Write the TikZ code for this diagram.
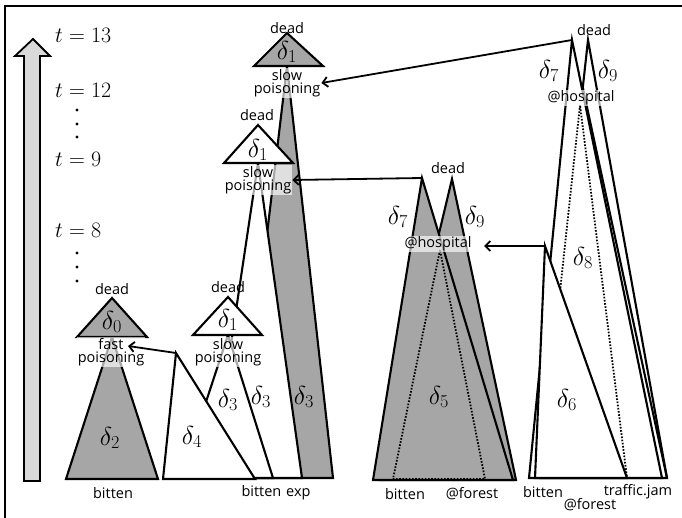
\RequirePackage{fix-cm}
\documentclass[tikz,border=0pt]{standalone}
\usepackage{fontspec}
\setsansfont{Open Sans}
\usetikzlibrary{arrows.meta}

\begin{document}
\begin{tikzpicture}[x=1pt, y=-1pt,
  font=\sffamily\fontsize{14.5}{13}\selectfont,
  edge/.style={draw=black, line width=2.1pt},
  grey/.style={edge, fill=black!35},
  blank/.style={edge, fill=white},
  dots/.style={line width=1.8pt, dash pattern=on 1.6pt off 1.6pt},
  ev/.style={align=center, inner sep=1pt, fill=white, fill opacity=0.65, text opacity=1},
  lab/.style={inner sep=0pt},
  dl/.style={inner sep=0pt, font=\fontsize{26}{28}\selectfont},
  tl/.style={anchor=west, inner sep=0pt, font=\fontsize{22}{24}\selectfont},
  link/.style={line width=1.8pt, -{Straight Barb[length=5pt,width=10pt]}}
]
\useasboundingbox (0,0) rectangle (682,518);
\draw[line width=2.6pt] (5,518) -- (5,6) -- (682,6);

\draw[line width=1.8pt, fill=black!15] (24,481) -- (24,56) -- (15,56) -- (33,39)
  -- (50,56) -- (40,56) -- (40,481) -- cycle;
\foreach \y/\t in {35/13, 90/12, 159/9, 230/8}
  \node[tl] (t\t) at (55,\y) {$t=\t$};
\foreach \y in {110,124,137,253,267,281}
  \fill (77,\y) circle (1.7);

% fast poisoning
\coordinate (d0top) at (112,298);
\draw[grey] (112,337) -- (66,479) -- (158,479) -- cycle;
\draw[grey] (d0top) -- (77,337) -- (147,337) -- cycle;
\node[lab] (dead0) at (112,289) {dead};
\node[dl] (n0) at (112,322) {$\delta_0$};
\node[ev] (fast) at (111,352) {fast\\poisoning};
\coordinate (fastin) at (128,346);
\node[dl] (n2) at (110,438) {$\delta_2$};
\node[lab] (bit0) at (113,493) {bitten};

% slow poisoning
\coordinate (d1top) at (287,33);
\coordinate (d1mid) at (258,125);
\coordinate (d1low) at (228,297);
\coordinate (d4top) at (176,353);
\draw[grey] (287,66) -- (238,478) -- (333,478) -- cycle;
\draw[blank] (258,163) -- (211,478) -- (302,478) -- cycle;
\draw[blank] (228,335) -- (181,478) -- (273,478) -- cycle;
\draw[blank] (d4top) -- (163,479) -- (255,479) -- cycle;
\draw[grey] (d1top) -- (254,66) -- (323,66) -- cycle;
\draw[blank] (d1mid) -- (224,163) -- (293,163) -- cycle;
\draw[blank] (d1low) -- (193,335) -- (262,335) -- cycle;
\node[lab] (deadA) at (287,28) {dead};
\node[lab] (deadB) at (257,115) {dead};
\node[lab] (deadC) at (228,287) {dead};
\node[dl] (n1a) at (287,52) {$\delta_1$};
\node[dl] (n1b) at (258,150) {$\delta_1$};
\node[dl] (n1c) at (228,320) {$\delta_1$};
\node[ev] (slowA) at (287,83) {slow\\poisoning};
\node[ev] (slowB) at (258,180) {slow\\poisoning};
\node[ev] (slowC) at (228,352) {slow\\poisoning};
\node[dl] (n4) at (192,437) {$\delta_4$};
\node[dl] (n3a) at (228,400) {$\delta_3$};
\node[dl] (n3b) at (261,397) {$\delta_3$};
\node[dl] (n3c) at (304,397) {$\delta_3$};
\node[lab] (bit1) at (276,493) {bitten\,\,exp};

% hospital, forest
\coordinate (d7top) at (422,178);
\coordinate (d9top) at (452,179);
\draw[grey] (d9top) -- (380,480) -- (516,480) -- cycle;
\draw[grey] (d7top) -- (373,480) -- (513,480) -- cycle;
\draw[dots] (440,250) -- (393,479) -- (485,479) -- cycle;
\node[lab] (deadD) at (448,168) {dead};
\node[dl] (n7a) at (398,217) {$\delta_7$};
\node[dl] (n9a) at (475,217) {$\delta_9$};
\node[ev] (hospA) at (438,244) {@hospital};
\coordinate (hospin) at (484,246);
\node[dl] (n5) at (439,397) {$\delta_5$};
\node[lab] (bit2) at (405,494) {bitten};
\node[lab] (forA) at (472,494) {@forest};

% hospital, forest, traffic jam
\coordinate (e7top) at (572,40);
\coordinate (e9top) at (588,40);
\coordinate (d6top) at (545,246);
\draw[blank] (e9top) -- (540,478) -- (667,478) -- cycle;
\draw[blank] (e7top) -- (529,478) -- (662,478) -- cycle;
\draw[edge] (582,84) -- (667,478);
\draw[dots] (580,105) -- (540,478) -- (627,478) -- cycle;
\draw[blank] (d6top) -- (535,478) -- (627,478) -- cycle;
\node[lab] (deadE) at (594,30) {dead};
\node[dl] (n7b) at (549,71) {$\delta_7$};
\node[dl] (n9b) at (608,71) {$\delta_9$};
\node[ev] (hospB) at (581,98) {@hospital};
\node[dl] (n8) at (583,258) {$\delta_8$};
\node[dl] (n6) at (567,400) {$\delta_6$};
\node[lab] (bit3) at (543,492) {bitten};
\node[lab] (forB) at (590,505) {@forest};
\node[lab] (jam) at (638,492) {traffic.jam};

\draw[link] (d4top) -- (fastin);
\draw[link] (d7top) -- (slowB.east);
\draw[link] (e7top) -- (slowA.east);
\draw[link] (d6top) -- (hospin);
\end{tikzpicture}
\end{document}
